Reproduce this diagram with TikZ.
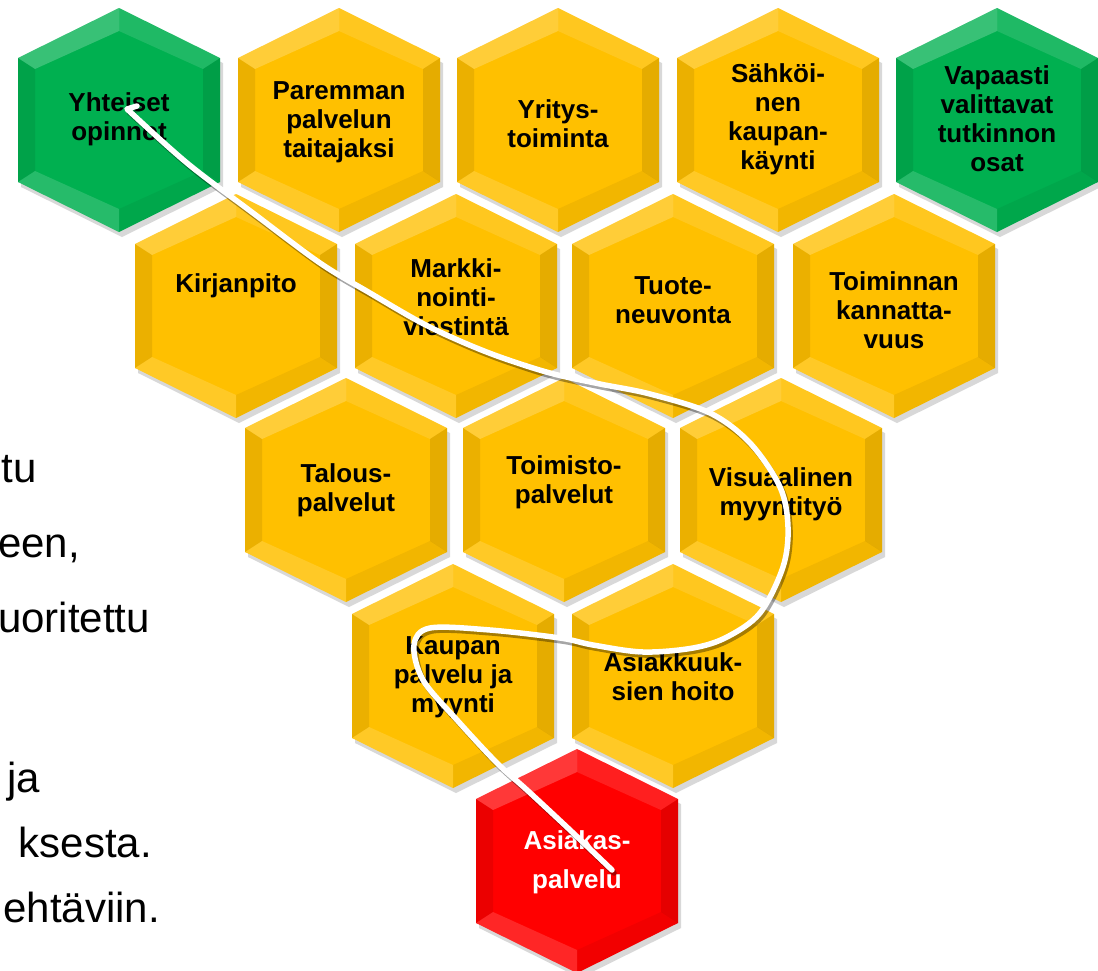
\documentclass[tikz,border=0pt]{standalone}
\usepackage{fontspec}
\setmainfont{Liberation Sans}
\usetikzlibrary{shadows}
\definecolor{hexyellow}{HTML}{FFC000}
\definecolor{hexgreen}{HTML}{00B050}
\definecolor{hexred}{HTML}{FF0000}
\begin{document}
\begin{tikzpicture}[x=1pt, y=-1pt, line join=round, line cap=round,
	hexfont/.style={font=\fontsize{26}{29}\selectfont\bfseries, align=center, inner sep=0pt},
	bodytext/.style={font=\fontsize{42}{50}\selectfont, anchor=base east, inner sep=0pt},
	pathline/.style={draw=white, line width=5.5pt,
		preaction={draw=black, draw opacity=.35, line width=5.5pt, transform canvas={shift={(2pt,-3pt)}}}}]
	\fill[white] (0,0) rectangle (1098,970);
	\useasboundingbox (0,0) rectangle (1098,970);
	% kennot
	\foreach \nm/\cx/\cy/\ty/\col/\tc/\txt in {
		yhteiset/119/120/119/hexgreen/black/{Yhteiset\\opinnot},
		paremman/339/120/122/hexyellow/black/{Paremman\\palvelun\\taitajaksi},
		yritys/558/120/124/hexyellow/black/{Yritys-\\toiminta},
		sahkoinen/778/120/119/hexyellow/black/{Sähköi-\\nen\\kaupan-\\käynti},
		vapaasti/997/120/119/hexgreen/black/{Vapaasti\\valittavat\\tutkinnon\\osat},
		kirjanpito/236/306/286/hexyellow/black/{Kirjanpito},
		markkinointi/456/306/297/hexyellow/black/{Markki-\\nointi-\\viestintä},
		tuote/673/306/300/hexyellow/black/{Tuote-\\neuvonta},
		toiminnan/894/306/310/hexyellow/black/{Toiminnan\\kannatta-\\vuus},
		talous/346/490/490/hexyellow/black/{Talous-\\palvelut},
		toimisto/564/490/482/hexyellow/black/{Toimisto-\\palvelut},
		visuaalinen/781/490/494/hexyellow/black/{Visuaalinen\\myyntityö},
		kaupan/453/676/677/hexyellow/black/{Kaupan\\palvelu ja\\myynti},
		asiakkuudet/673/676/677/hexyellow/black/{Asiakkuuk-\\sien hoito},
		asiakaspalvelu/577/861/862/hexred/white/{Asiakas-\\[10pt]palvelu}}
	{
		\begin{scope}[shift={(\cx,\cy)}]
			\fill[\col, drop shadow={shadow xshift=3pt, shadow yshift=-5pt, opacity=.3}]
			(0,-112)--(101,-62)--(101,62)--(0,112)--(-101,62)--(-101,-62)--cycle;
			\fill[white, opacity=.22] (0,-112)--(-101,-62)--(-84,-51)--(0,-89)--cycle;
			\fill[white, opacity=.12] (0,-112)--(101,-62)--(84,-51)--(0,-89)--cycle;
			\fill[black, opacity=.10] (101,-62)--(101,62)--(84,51)--(84,-51)--cycle;
			\fill[black, opacity=.05] (101,62)--(0,112)--(0,89)--(84,51)--cycle;
			\fill[white, opacity=.15] (-101,62)--(0,112)--(0,89)--(-84,51)--cycle;
			\fill[black, opacity=.08] (-101,-62)--(-101,62)--(-84,51)--(-84,-51)--cycle;
		\end{scope}
		\node[hexfont, text=\tc] (\nm) at (\cx,\ty) {\txt};
	}
	% polku
	\coordinate (alku) at (137,106);
	\coordinate (loppu) at (612,870);
	\draw[pathline] (alku) -- plot[smooth, tension=.55] coordinates {(127,109) (187,163) (253,213) (320,263)
		(370,293) (420,322) (460,341) (500,357) (550,373) (600,384) (650,394) (710,413) (750,443)
		(780,487) (788,527) (783,567) (760,613) (727,637) (693,648) (643,652) (593,645) (560,638)
		(490,630) (430,628) (414,645) (423,680) (457,720) (497,763) (527,790) (570,830) (loppu)};
	% teksti vasemmalla
	\node[bodytext] (t1) at (37,482) {tu};
	\node[bodytext] (t2) at (80,557) {een,};
	\node[bodytext] (t3) at (150,632) {uoritettu};
	\node[bodytext] (t4) at (40,792) {ja};
	\node[bodytext] (t5) at (152,857) {ksesta.};
	\node[bodytext] (t6) at (160,922) {ehtäviin.};
\end{tikzpicture}
\end{document}
